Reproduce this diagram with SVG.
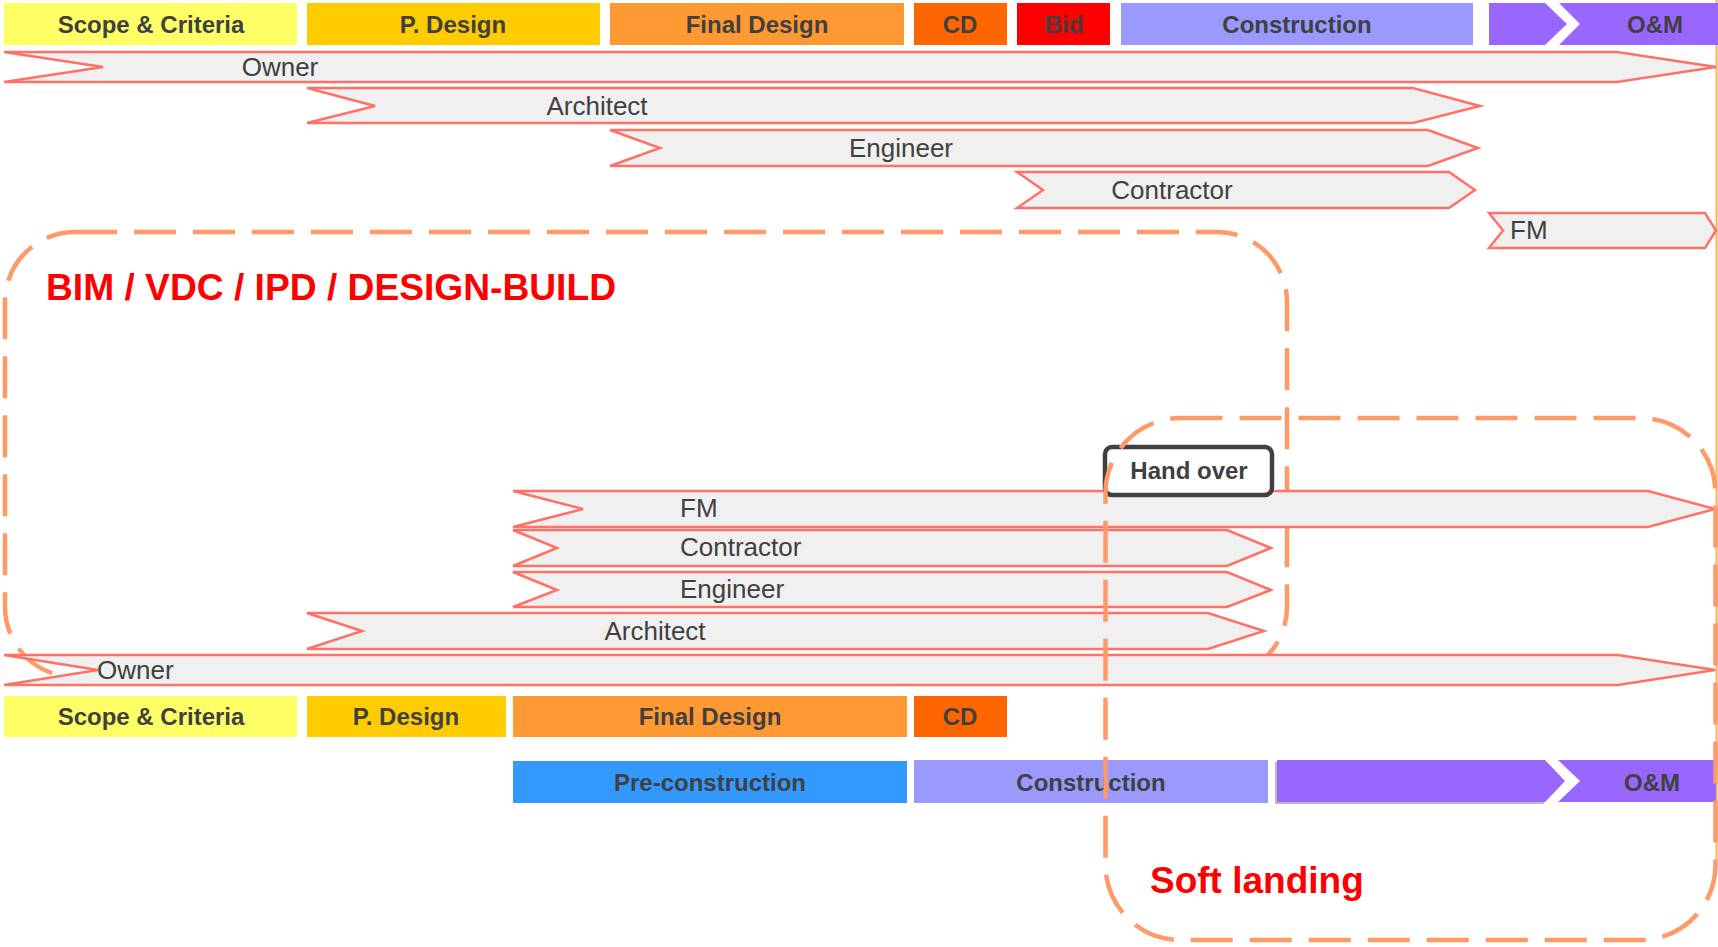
<svg xmlns="http://www.w3.org/2000/svg" width="1718" height="947" viewBox="0 0 1718 947">
<style>
  .phase-txt { font-family: "Liberation Sans", Arial, sans-serif; font-weight: bold; font-size: 24px; fill: #404040; text-anchor: middle; }
  .bar { fill: #F0F0F0; stroke: #FF7066; stroke-width: 2.5; stroke-linejoin: miter; }
  .bar-txt { font-family: "Liberation Sans", Arial, sans-serif; font-size: 26px; fill: #404040; }
  .mid { text-anchor: middle; }
  .dash { fill: none; stroke: #FF9966; stroke-width: 4.5; stroke-dasharray: 42 17; }
  .big { font-family: "Liberation Sans", Arial, sans-serif; font-weight: bold; fill: #FF0000; }
</style>
<rect width="1718" height="947" fill="#FFFFFF"/>

<!-- BIM / VDC dashed group (behind bars) -->
<g id="bim-box">
  <rect class="dash" x="5" y="232" width="1282" height="445" rx="70" ry="70"/>
  <text class="big" x="46" y="300" font-size="37.5" textLength="570" lengthAdjust="spacingAndGlyphs">BIM / VDC / IPD / DESIGN-BUILD</text>
</g>

<!-- right edge line -->
<line x1="1716.5" y1="0" x2="1716.5" y2="860" stroke="#FFB347" stroke-width="2"/>

<!-- Top phases -->
<g id="top-phases">
  <g id="tp-scope"><rect x="4" y="3" width="293" height="42" fill="#FFFF66"/><text class="phase-txt" x="151" y="33">Scope &amp; Criteria</text></g>
  <g id="tp-pdesign"><rect x="307" y="3" width="293" height="42" fill="#FFCC00"/><text class="phase-txt" x="453" y="33">P. Design</text></g>
  <g id="tp-final"><rect x="610" y="3" width="294" height="42" fill="#FF9933"/><text class="phase-txt" x="757" y="33">Final Design</text></g>
  <g id="tp-cd"><rect x="914" y="3" width="93" height="42" fill="#FF6600"/><text class="phase-txt" x="960" y="33">CD</text></g>
  <g id="tp-bid"><rect x="1017" y="3" width="93" height="42" fill="#FF0000"/><text class="phase-txt" x="1064" y="33">Bid</text></g>
  <g id="tp-construction"><rect x="1121" y="3" width="352" height="42" fill="#9999FF"/><text class="phase-txt" x="1297" y="33">Construction</text></g>
  <g id="tp-om">
    <polygon points="1489,3 1545,3 1567,24 1545,45 1489,45" fill="#9966FF"/>
    <polygon points="1559,3 1718,3 1718,45 1559,45 1580,24" fill="#9966FF"/>
    <text class="phase-txt" x="1655" y="33">O&amp;M</text>
  </g>
</g>

<!-- Top role bars -->
<g id="top-owner"><polygon class="bar" points="4,52 1617,52 1716,67 1617,82 4,82 103,67"/><text class="bar-txt mid" x="280" y="76">Owner</text></g>
<g id="top-architect"><polygon class="bar" points="307,88 1413,88 1480,106 1413,123 307,123 375,106"/><text class="bar-txt mid" x="597" y="115">Architect</text></g>
<g id="top-engineer"><polygon class="bar" points="610,130 1428,130 1478,148 1428,166 610,166 660,148"/><text class="bar-txt mid" x="901" y="157">Engineer</text></g>
<g id="top-contractor"><polygon class="bar" points="1017,172 1449,172 1475,190 1449,208 1017,208 1043,190"/><text class="bar-txt mid" x="1172" y="199">Contractor</text></g>
<g id="top-fm"><polygon class="bar" points="1489,213 1705,213 1716,230.5 1705,248 1489,248 1503,230.5"/><text class="bar-txt" x="1510" y="239">FM</text></g>

<!-- Lower role bars -->
<g id="low-fm"><polygon class="bar" points="513,491 1648,491 1715,509 1648,527 513,527 583,509"/><text class="bar-txt" x="680" y="517">FM</text></g>
<g id="low-contractor"><polygon class="bar" points="513,530 1227,530 1271,548 1227,566 513,566 557,548"/><text class="bar-txt" x="680" y="556">Contractor</text></g>
<g id="low-engineer"><polygon class="bar" points="513,572 1227,572 1271,590 1227,607 513,607 557,590"/><text class="bar-txt" x="680" y="598">Engineer</text></g>
<g id="low-architect"><polygon class="bar" points="307,613 1208,613 1264,631 1208,649 307,649 362,631"/><text class="bar-txt mid" x="655" y="640">Architect</text></g>
<g id="low-owner"><polygon class="bar" points="4,655 1618,655 1715,670 1618,685 4,685 98,670"/><text class="bar-txt" x="97" y="679">Owner</text></g>

<!-- Lower phases -->
<g id="low-phases">
  <g id="lp-scope"><rect x="4" y="696" width="293" height="41" fill="#FFFF66"/><text class="phase-txt" x="151" y="725">Scope &amp; Criteria</text></g>
  <g id="lp-pdesign"><rect x="307" y="696" width="199" height="41" fill="#FFCC00"/><text class="phase-txt" x="406" y="725">P. Design</text></g>
  <g id="lp-final"><rect x="513" y="696" width="394" height="41" fill="#FF9933"/><text class="phase-txt" x="710" y="725">Final Design</text></g>
  <g id="lp-cd"><rect x="914" y="696" width="93" height="41" fill="#FF6600"/><text class="phase-txt" x="960" y="725">CD</text></g>
  <g id="lp-precon"><rect x="513" y="761" width="394" height="42" fill="#3399FF"/><text class="phase-txt" x="710" y="791">Pre-construction</text></g>
  <g id="lp-construction"><rect x="914" y="760" width="354" height="43" fill="#9999FF"/><text class="phase-txt" x="1091" y="791">Construction</text></g>
  <g id="lp-om">
    <polygon points="1275,762 1543,762 1563,783 1543,804 1275,804" fill="#BBBBBB"/>
    <polygon points="1277,760 1545,760 1565,781 1545,802 1277,802" fill="#9966FF"/>
    <polygon points="1558,760 1716,760 1716,802 1558,802 1580,781" fill="#9966FF"/>
    <text class="phase-txt" x="1652" y="791">O&amp;M</text>
  </g>
</g>

<!-- Hand over -->
<g id="hand-over">
  <rect x="1105" y="447" width="167" height="48" rx="7" ry="7" fill="#FFFFFF" stroke="#404040" stroke-width="4.5"/>
  <text class="phase-txt" x="1189" y="479" font-size="24.5">Hand over</text>
</g>

<!-- Soft landing dashed group (on top) -->
<g id="soft-landing">
  <rect class="dash" x="1105.5" y="418" width="610" height="522" rx="75" ry="75"/>
  <text class="big" x="1150" y="893" font-size="37">Soft landing</text>
</g>
</svg>
